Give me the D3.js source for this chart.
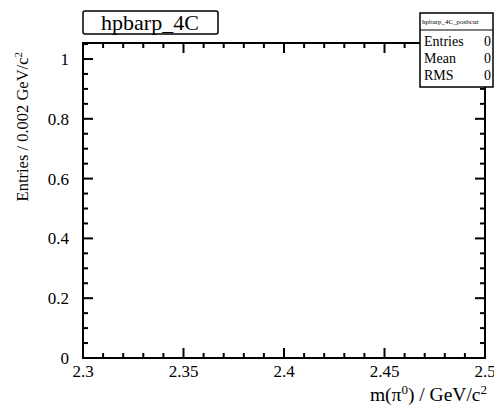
<!DOCTYPE html>
<html><head><meta charset="utf-8">
<script src="https://cdn.jsdelivr.net/npm/d3@7"></script>
<style>body{margin:0;background:#fff}svg{display:block}text{font-family:"Liberation Serif","Times New Roman",serif;fill:#000}</style>
</head><body><svg id="c" width="494" height="406"></svg>
<script>
const xDomain = [2.3, 2.5];
const yDomain = [0, 1.0535];
const xTicks = [2.3, 2.35, 2.4, 2.45, 2.5];
const xTickLabels = ["2.3", "2.35", "2.4", "2.45", "2.5"];
const yTicks = [0, 0.2, 0.4, 0.6, 0.8, 1];
const yTickLabels = ["0", "0.2", "0.4", "0.6", "0.8", "1"];
const statNames = ["Entries", "Mean", "RMS"];
const statValues = ["0", "0", "0"];
const histTitle = "hpbarp_4C";
const statsTitle = "hpbarp_4C_posbcut";

const svg = d3.select("#c");
const L = 83, R = 485, T = 43, B = 358;
const x = d3.scaleLinear().domain(xDomain).range([L, R]);
const y = d3.scaleLinear().domain(yDomain).range([B, T]);

const xMinor = d3.range(0, 21).map(i => 2.3 + i * 0.01).filter(v => !xTicks.some(t => Math.abs(t - v) < 1e-9));
const yMinor = d3.range(0, 22).map(i => i * 0.05).filter(v => v <= yDomain[1] && !yTicks.some(t => Math.abs(t - v) < 1e-9));

const g = svg.append("g");
function addTicks(vals, len, orient) {
  vals.forEach(v => {
    if (orient === "bottom") g.append("line").attr("x1", x(v)).attr("x2", x(v)).attr("y1", B).attr("y2", B - len);
    if (orient === "top") g.append("line").attr("x1", x(v)).attr("x2", x(v)).attr("y1", T).attr("y2", T + len);
    if (orient === "left") g.append("line").attr("y1", y(v)).attr("y2", y(v)).attr("x1", L).attr("x2", L + len);
    if (orient === "right") g.append("line").attr("y1", y(v)).attr("y2", y(v)).attr("x1", R).attr("x2", R - len);
  });
}
addTicks(xTicks, 10, "bottom"); addTicks(xMinor, 5, "bottom");
addTicks(xTicks, 10, "top"); addTicks(xMinor, 5, "top");
addTicks(yTicks, 10, "left"); addTicks(yMinor, 5, "left");
addTicks(yTicks, 10, "right"); addTicks(yMinor, 5, "right");
g.selectAll("line").attr("stroke", "#000").attr("stroke-width", 2);

svg.append("rect").attr("x", L).attr("y", T).attr("width", R - L).attr("height", B - T)
  .attr("fill", "none").attr("stroke", "#000").attr("stroke-width", 2);

// tick labels
xTicks.forEach((v, i) => svg.append("text").attr("x", x(v)).attr("y", 377)
  .attr("text-anchor", "middle").attr("font-size", 17).text(xTickLabels[i]));
yTicks.forEach((v, i) => svg.append("text").attr("x", 69).attr("y", y(v) + 6)
  .attr("text-anchor", "end").attr("font-size", 17).text(yTickLabels[i]));

// axis titles
const xt = svg.append("text").attr("x", R + 2).attr("y", 401).attr("text-anchor", "end").attr("font-size", 19.5);
xt.append("tspan").text("m(π");
xt.append("tspan").attr("dy", -7).attr("font-size", 13).text("0");
xt.append("tspan").attr("dy", 7).text(") / GeV/c");
xt.append("tspan").attr("dy", -7).attr("font-size", 13).text("2");

const yt = svg.append("text").attr("transform", "translate(28,52) rotate(-90)").attr("text-anchor", "end").attr("font-size", 16.5);
yt.append("tspan").text("Entries / 0.002 GeV/c");
yt.append("tspan").attr("dy", -6).attr("font-size", 11).text("2");

// title box
svg.append("rect").attr("x", 83).attr("y", 11).attr("width", 135).attr("height", 23).attr("rx", 2)
  .attr("fill", "#fff").attr("stroke", "#000").attr("stroke-width", 1.5);
svg.append("text").attr("x", 150).attr("y", 30).attr("text-anchor", "middle").attr("font-size", 22).text(histTitle);

// stats box
const sb = {x: 420, y: 13, w: 73, h: 74};
svg.append("rect").attr("x", sb.x).attr("y", sb.y).attr("width", sb.w).attr("height", sb.h)
  .attr("fill", "#fff").attr("stroke", "#000").attr("stroke-width", 1.5);
svg.append("line").attr("x1", sb.x).attr("x2", sb.x + sb.w).attr("y1", 30).attr("y2", 30).attr("stroke", "#000").attr("stroke-width", 1.2);
svg.append("defs").append("clipPath").attr("id", "sc").append("rect").attr("x", sb.x).attr("y", sb.y).attr("width", sb.w).attr("height", 17);
svg.append("text").attr("clip-path", "url(#sc)").attr("x", 422).attr("y", 24).attr("font-size", 7).text(statsTitle);
statNames.forEach((n, i) => {
  svg.append("text").attr("x", 424).attr("y", 46 + i * 17).attr("font-size", 14).text(n);
  svg.append("text").attr("x", 484).attr("y", 46 + i * 17).attr("font-size", 14).text(statValues[i]);
});
</script></body></html>
